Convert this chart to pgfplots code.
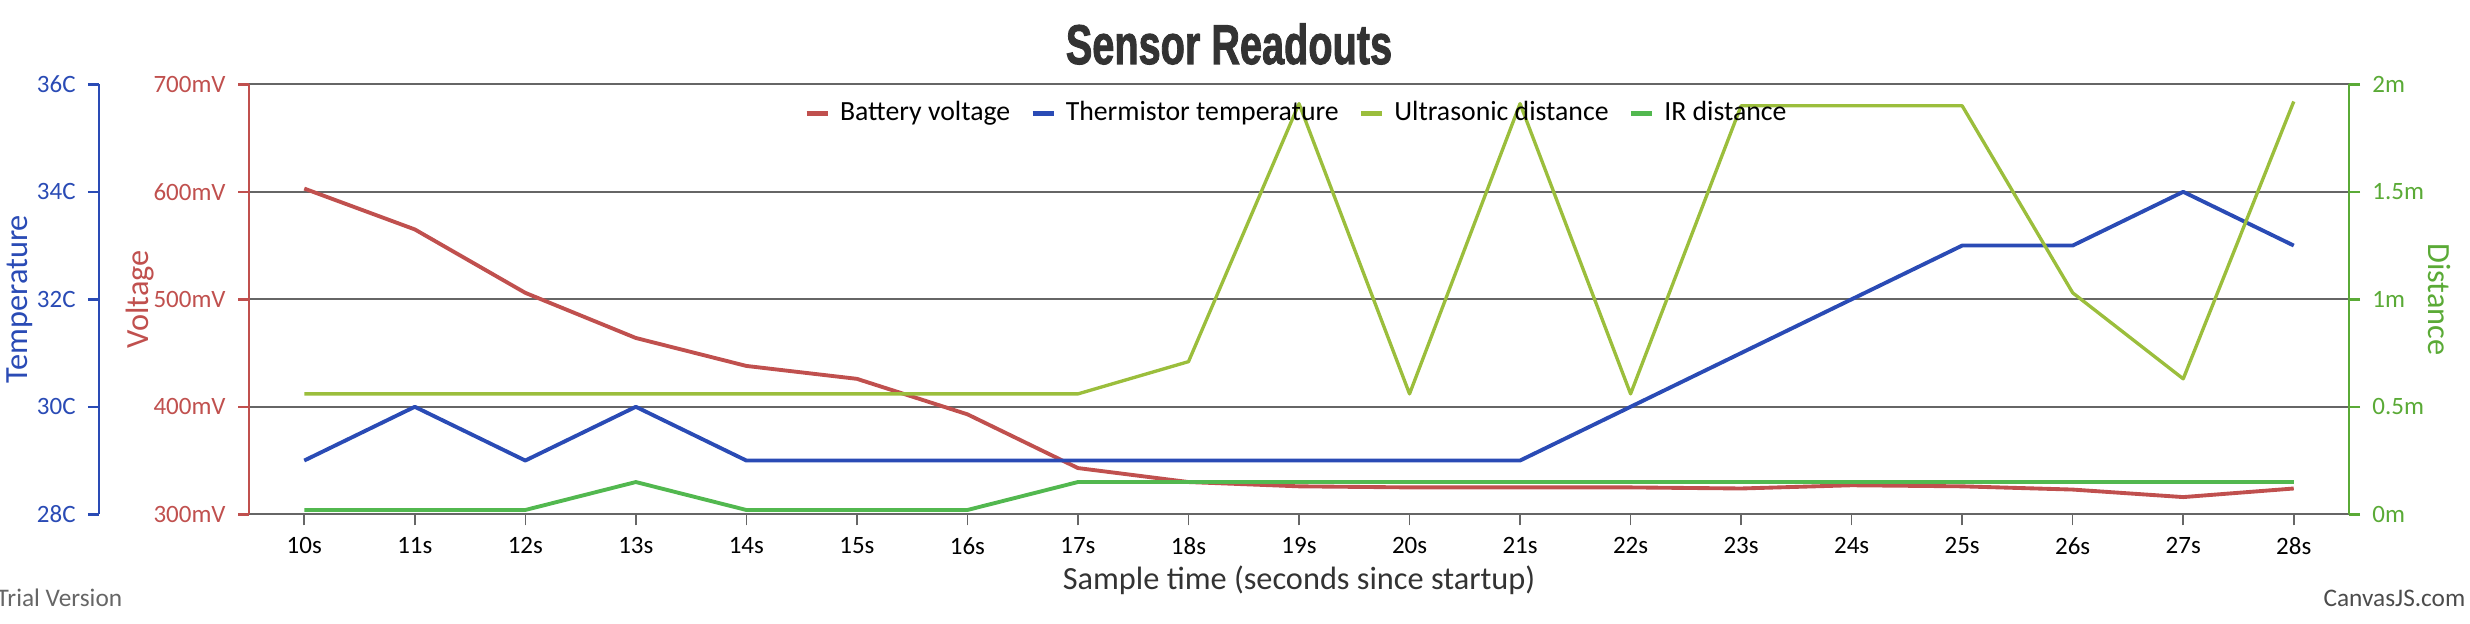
\documentclass[border=0pt]{standalone}
\usepackage{pgfplots}
\pgfplotsset{compat=1.18}
\usepackage{pgfplotstable}
\usepackage{graphicx}
\usepackage{fontspec}
\setmainfont{Carlito}
\newfontfamily\titlefont{Liberation Sans}[FakeBold=2]
\definecolor{cRed}{HTML}{C0504E}
\definecolor{cBlue}{HTML}{2A4BB5}
\definecolor{cUltra}{HTML}{9BBE3C}
\definecolor{cIR}{HTML}{52B84F}
\definecolor{cDist}{HTML}{5AAA36}
\definecolor{cGrid}{HTML}{666666}
\definecolor{cText}{HTML}{333333}

\pgfplotstableread{
t v
10 603
11 565
12 506
13 464
14 438
15 426
16 393
17 343
18 330
19 326
20 325
21 325
22 325
23 324
24 327
25 326
26 323
27 316
28 324
}\voltdata
\pgfplotstableread{
t v
10 29
11 30
12 29
13 30
14 29
15 29
16 29
17 29
18 29
19 29
20 29
21 29
22 30
23 31
24 32
25 33
26 33
27 34
28 33
}\tempdata
\pgfplotstableread{
t v
10 0.56
11 0.56
12 0.56
13 0.56
14 0.56
15 0.56
16 0.56
17 0.56
18 0.71
19 1.91
20 0.56
21 1.91
22 0.56
23 1.90
24 1.90
25 1.90
26 1.03
27 0.63
28 1.92
}\ultradata
\pgfplotstableread{
t v
10 0.02
11 0.02
12 0.02
13 0.15
14 0.02
15 0.02
16 0.02
17 0.15
18 0.15
19 0.15
20 0.15
21 0.15
22 0.15
23 0.15
24 0.15
25 0.15
26 0.15
27 0.15
28 0.15
}\irdata

\pgfplotsset{
  base/.style={
    width=210mm, height=43mm, scale only axis,
    at={(24.9mm,10.97mm)}, anchor=south west,
    xmin=9.5, xmax=28.5,
    tick align=outside,
    major tick length=1.1mm,
    tick label style={font=\fontsize{7.1}{8}\selectfont},
    label style={font=\fontsize{9.2}{10}\selectfont},
  },
  ser/.style={line width=1.1pt, line join=round, mark=none},
}

\begin{document}
\begin{tikzpicture}
\useasboundingbox (0,0) rectangle (247mm,62.4mm);

\node[font=\titlefont\bfseries\fontsize{15.9}{16}\selectfont, text=cText] at (122.9mm,58.0mm) {\scalebox{0.71}[1]{Sensor Readouts}};

\begin{axis}[base,
  axis x line*=bottom, axis y line*=left,
  x axis line style={cGrid, line width=0.6pt},
  y axis line style={cRed, line width=0.7pt},
  xtick={10,...,28},
  xticklabels={10s,11s,12s,13s,14s,15s,16s,17s,18s,19s,20s,21s,22s,23s,24s,25s,26s,27s,28s},
  x tick style={cGrid, line width=0.45pt},
  xticklabel style={text=black},
  ymin=300, ymax=700, ytick={300,400,500,600,700},
  yticklabels={300mV,400mV,500mV,600mV,700mV},
  y tick style={cRed, line width=0.7pt},
  yticklabel style={text=cRed},
  ymajorgrids, grid style={cGrid, line width=0.6pt},
  ylabel={Voltage},
  ylabel style={text=cRed, at={(axis description cs:-0.0519,0.5)}, anchor=center},
  xlabel={Sample time (seconds since startup)},
  xlabel style={text=cText, at={(axis description cs:0.5,-0.1528)}, anchor=center},
]
\addplot[ser, cRed] table[x=t,y=v] {\voltdata};
\end{axis}

\begin{axis}[base,
  axis x line=none, axis y line*=left,
  ymin=28, ymax=36, ytick={28,30,32,34,36},
  yticklabels={28C,30C,32C,34C,36C},
  y axis line style={cBlue, line width=0.7pt, xshift=-15mm},
  y tick style={cBlue, line width=0.7pt, xshift=-15mm},
  yticklabel style={text=cBlue, xshift=-15mm},
  ylabel={Temperature},
  ylabel style={text=cBlue, at={(axis description cs:-0.109,0.5)}, anchor=center},
]
\addplot[ser, cBlue] table[x=t,y=v] {\tempdata};
\end{axis}

\begin{axis}[base,
  axis x line=none, axis y line*=right,
  ymin=0, ymax=2, ytick={0,0.5,1,1.5,2},
  yticklabels={0m,0.5m,1m,1.5m,2m},
  y axis line style={cDist, line width=0.7pt},
  y tick style={cDist, line width=0.7pt},
  yticklabel style={text=cDist},
  ylabel={Distance},
  ylabel style={text=cDist, rotate=180, at={(axis description cs:1.0433,0.5)}, anchor=center},
  legend columns=4,
  legend style={at={(0.5,1)}, anchor=north, yshift=-0.2mm, draw=none, fill=none,
    font=\fontsize{7.9}{9}\selectfont, text=black,
    /tikz/every even column/.append style={column sep=1.3mm},
    /tikz/every odd column/.append style={column sep=0.3mm}},
  legend image code/.code={\draw[#1, line width=1.3pt] (0mm,0mm) -- (2.1mm,0mm);},
]
\addlegendimage{cRed}
\addlegendentry{Battery voltage}
\addlegendimage{cBlue}
\addlegendentry{Thermistor temperature}
\addplot[ser, cUltra, line width=0.95pt] table[x=t,y=v] {\ultradata};
\addlegendentry{Ultrasonic distance}
\addplot[ser, cIR] table[x=t,y=v] {\irdata};
\addlegendentry{IR distance}
\end{axis}

\node[anchor=west, inner sep=0pt, font=\fontsize{7.2}{8}\selectfont, text=black!60] at (-0.4mm,2.6mm) {Trial Version};
\node[anchor=east, inner sep=0pt, font=\fontsize{7.2}{8}\selectfont, text=black!70] at (246.6mm,2.6mm) {CanvasJS.com};
\end{tikzpicture}
\end{document}
